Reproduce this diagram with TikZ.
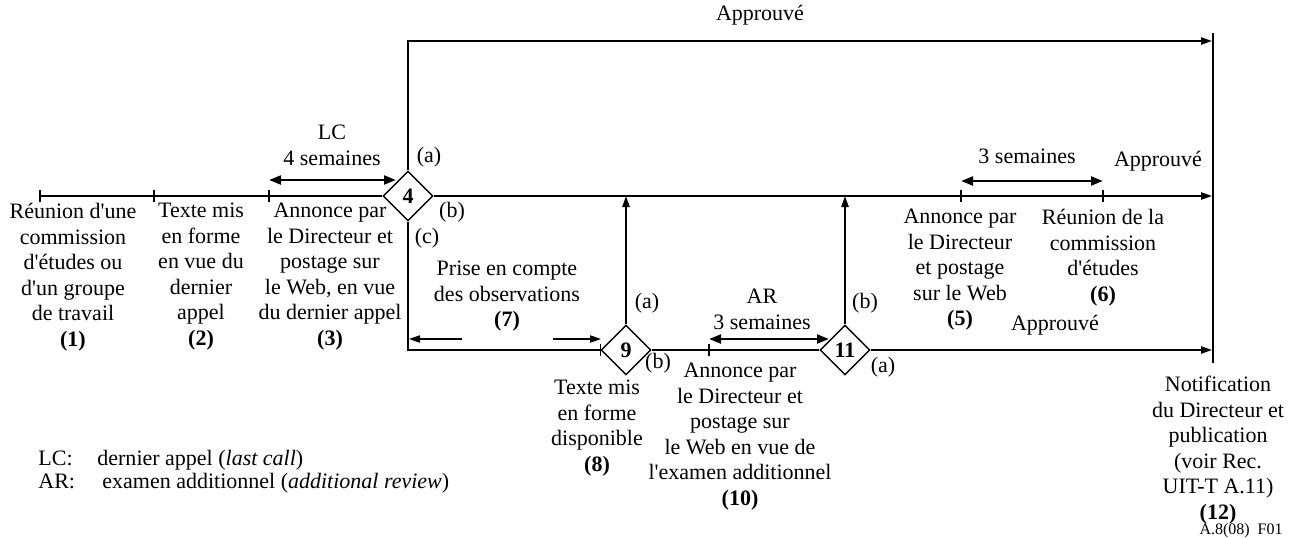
\documentclass[tikz,border=0pt]{standalone}
\usepackage{fontspec}
\setmainfont{Liberation Serif}
\usetikzlibrary{shapes.geometric,arrows.meta,positioning}

\tikzset{
  txt/.style={inner sep=0pt, align=center, font=\fontsize{11}{12.75}\selectfont},
  gate/.style={shape=diamond, draw, line width=0.7pt, minimum size=25pt, inner sep=0pt, fill=white, font=\fontsize{11}{12.75}\selectfont\bfseries},
  flow/.style={line width=0.9pt},
  tip/.style={-{Triangle[length=5.5pt,width=3.6pt]}},
  span/.style={line width=1.3pt, {Triangle[length=6pt,width=4.4pt]}-{Triangle[length=6pt,width=4.4pt]}}
}

\begin{document}
\begin{tikzpicture}[x=0.5pt, y=-0.5pt]
\useasboundingbox (0,0) rectangle (1294,537);
\node [gate] (d4) at (408,196) {4};
\node [gate] (d9) at (626,350) {9};
\node [gate] (d11) at (845,350) {11};
\coordinate (t1) at (40,196);
\coordinate (t2) at (154,196);
\coordinate (t3) at (269,196);
\coordinate (t5) at (961,196);
\coordinate (t6) at (1103,196);
\coordinate (t9) at (709,350);
\coordinate (e1) at (1212,41);
\coordinate (e2) at (1212,196);
\coordinate (e3) at (1212,350);
\coordinate (v1) at (1213,33);
\coordinate (v2) at (1213,363);
\coordinate (lc1) at (269,180);
\coordinate (lc2) at (396,180);
\coordinate (s1) at (961,181);
\coordinate (s2) at (1103,181);
\coordinate (ar1) at (709,339);
\coordinate (ar2) at (829,339);
\coordinate (p1) at (462,339);
\coordinate (p2) at (409,339);
\coordinate (p3) at (553,339);
\coordinate (p4) at (601,339);

\node [txt, anchor=base] (apr1) at (760,20) {Approuvé};
\node [txt, anchor=base] (apr2) at (1158,166) {Approuvé};
\node [txt, anchor=base] (apr3) at (1055,330) {Approuvé};
\node [txt, anchor=base] (sem3) at (1027,163) {3 semaines};
\node [txt, anchor=north] (lc) at (332,125) {LC\\4 semaines};
\node [txt, anchor=north] (ar) at (762,289) {AR\\3 semaines};
\node [txt, anchor=north] (n1) at (73,203) {Réunion d\textquotesingle une\\commission\\d\textquotesingle études ou\\d\textquotesingle un groupe\\de travail\\\textbf{(1)}};
\node [txt, anchor=north] (n2) at (201,203) {Texte mis\\en forme\\en vue du\\dernier\\appel\\\textbf{(2)}};
\node [txt, anchor=north] (n3) at (330,203) {Annonce par\\le Directeur et\\postage sur\\le Web, en vue\\du dernier appel\\\textbf{(3)}};
\node [txt, anchor=north] (n5) at (960,209) {Annonce par\\le Directeur\\et postage\\sur le Web\\\textbf{(5)}};
\node [txt, anchor=north] (n6) at (1103,209) {Réunion de la\\commission\\d\textquotesingle études\\\textbf{(6)}};
\node [txt, anchor=north] (n7) at (507,261) {Prise en compte\\des observations\\\textbf{(7)}};
\node [txt, anchor=north] (n8) at (597,380) {Texte mis\\en forme\\disponible\\\textbf{(8)}};
\node [txt, anchor=north] (n10) at (740,363) {Annonce par\\le Directeur et\\postage sur\\le Web en vue de\\l\textquotesingle examen additionnel\\\textbf{(10)}};
\node [txt, anchor=north] (n12) at (1218,376) {Notification\\du Directeur et\\publication\\(voir Rec.\\UIT-T A.11)\\\textbf{(12)}};
\node [txt] (la4) at (429,157) {(a)};
\node [txt] (lb4) at (452,212) {(b)};
\node [txt] (lc4) at (427,238) {(c)};
\node [txt] (la9) at (647,303) {(a)};
\node [txt] (lb9) at (658,363) {(b)};
\node [txt] (lb11) at (865,303) {(b)};
\node [txt] (la11) at (883,367) {(a)};
\node [txt, anchor=base west] (keylc) at (38,465) {\makebox[29.5pt][l]{LC:}dernier appel (\textit{last call})};
\node [txt, anchor=base west] (keyar) at (38,488) {\makebox[32pt][l]{AR:}examen additionnel (\textit{additional review})};
\node [inner sep=0pt, anchor=base east, font=\fontsize{8}{9}\selectfont] (fig) at (1283,534) {A.8(08)\ \ F01};

\draw [flow] (t1) -- (d4.west);
\draw [flow, tip] (d4.north) |- (e1);
\draw [flow, tip] (d4.east) -- (e2);
\draw [flow] (d4.south) |- (d9.west);
\draw [flow] (d9.east) -- (d11.west);
\draw [flow, tip] (d11.east) -- (e3);
\draw [flow, tip] (d9.north) -- (d9.north |- e2);
\draw [flow, tip] (d11.north) -- (d11.north |- e2);
\draw [line width=0.7pt] (v1) -- (v2);
\foreach \t in {t1,t2,t3,t5,t6,t9,d9.west}
  \draw [line width=0.7pt] ([yshift=3.2pt]\t) -- ([yshift=-3.2pt]\t);
\draw [span] (lc1) -- (lc2);
\draw [span] (s1) -- (s2);
\draw [span] (ar1) -- (ar2);
\draw [line width=0.8pt, tip] (p1) -- (p2);
\draw [line width=0.8pt, tip] (p3) -- (p4);
\end{tikzpicture}
\end{document}
